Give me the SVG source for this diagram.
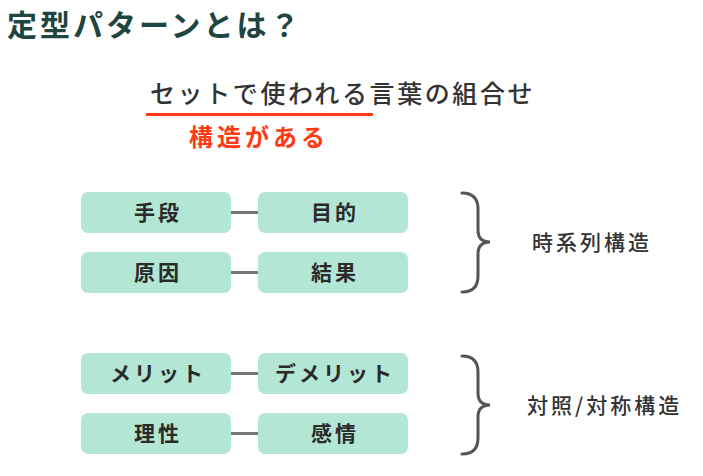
<svg xmlns="http://www.w3.org/2000/svg" width="703" height="476" viewBox="0 0 703 476">
<style>
text{font-family:"Noto Sans CJK JP","Noto Sans",sans-serif}
.title{font-size:30px;font-weight:700;fill:#1f4541;letter-spacing:3px}
.sub{font-size:25px;font-weight:500;fill:#333;letter-spacing:2.6px}
.red{font-size:24px;font-weight:700;fill:#ff3a14;letter-spacing:4px}
.box{fill:#b4e6d5}
.bt{font-size:21px;font-weight:700;fill:#2a2a2a;text-anchor:middle;letter-spacing:3px}
.lbl{font-size:21px;font-weight:500;fill:#333;letter-spacing:3px}
.conn{stroke:#777;stroke-width:3}
.brace{fill:none;stroke:#555;stroke-width:3;stroke-linecap:round}
</style>
<rect width="703" height="476" fill="#fff"/>
<text class="title" x="7" y="36">定型パターンとは？</text>
<text class="sub" x="150" y="103">セットで使われる言葉の組合せ</text>
<line x1="146" y1="114.5" x2="373" y2="114.5" stroke="#ff3a14" stroke-width="3"/>
<text class="red" x="189" y="146">構造がある</text>
<g id="connectors">
<line class="conn" x1="231" y1="212.5" x2="258" y2="212.5"/>
<line class="conn" x1="231" y1="272.5" x2="258" y2="272.5"/>
<line class="conn" x1="231" y1="373.5" x2="258" y2="373.5"/>
<line class="conn" x1="231" y1="433.5" x2="258" y2="433.5"/>
</g>
<g id="n-shudan"><rect class="box" x="81" y="192" width="150" height="41" rx="7"/><text class="bt" x="158" y="220">手段</text></g>
<g id="n-mokuteki"><rect class="box" x="258" y="192" width="150" height="41" rx="7"/><text class="bt" x="335" y="220">目的</text></g>
<g id="n-genin"><rect class="box" x="81" y="252" width="150" height="41" rx="7"/><text class="bt" x="158" y="280">原因</text></g>
<g id="n-kekka"><rect class="box" x="258" y="252" width="150" height="41" rx="7"/><text class="bt" x="335" y="280">結果</text></g>
<g id="n-merit"><rect class="box" x="81" y="353" width="150" height="41" rx="7"/><text class="bt" x="158" y="381">メリット</text></g>
<g id="n-demerit"><rect class="box" x="258" y="353" width="150" height="41" rx="7"/><text class="bt" x="335" y="381">デメリット</text></g>
<g id="n-risei"><rect class="box" x="81" y="413" width="150" height="41" rx="7"/><text class="bt" x="158" y="441">理性</text></g>
<g id="n-kanjo"><rect class="box" x="258" y="413" width="150" height="41" rx="7"/><text class="bt" x="335" y="441">感情</text></g>
<g id="brace1">
<path class="brace" d="M462,193 Q478,193 478,209 L478,230 Q478,242 490,242 Q478,242 478,254 L478,276 Q478,292 462,292"/>
<text class="lbl" x="532" y="250">時系列構造</text>
</g>
<g id="brace2">
<path class="brace" d="M462,356 Q478,356 478,372 L478,393 Q478,405 490,405 Q478,405 478,417 L478,438 Q478,454 462,454"/>
<text class="lbl" x="527" y="413">対照/対称構造</text>
</g>
</svg>
